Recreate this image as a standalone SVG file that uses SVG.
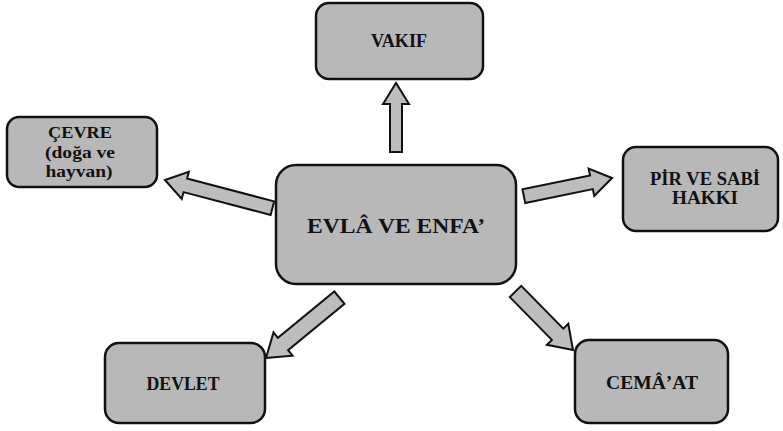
<svg xmlns="http://www.w3.org/2000/svg" width="783" height="431" viewBox="0 0 783 431">
<style>
.box{fill:#b8b8b8;stroke:#111;stroke-width:2.5}
.arr{fill:#bdbdbd;stroke:#111;stroke-width:2;stroke-linejoin:miter}
.t{font-family:"Liberation Serif","Times New Roman",serif;font-weight:bold;fill:#111;text-anchor:middle}
</style>
<rect width="783" height="431" fill="#fff"/>
<g id="connectors">
<polygon class="arr" transform="translate(396,83) rotate(-90)" points="0,0 -21,-13 -21,-6 -69,-6 -69,6 -21,6 -21,13"/>
<polygon class="arr" transform="translate(165,180) rotate(194.7)" points="0,0 -21,-14 -21,-7 -111,-7 -111,7 -21,7 -21,14"/>
<polygon class="arr" transform="translate(612,178) rotate(-11.6)" points="0,0 -21,-14 -21,-7 -90,-7 -90,7 -21,7 -21,14"/>
<polygon class="arr" transform="translate(266,358) rotate(140.6)" points="0,0 -22,-15 -22,-8 -95,-8 -95,8 -22,8 -22,15"/>
<polygon class="arr" transform="translate(573,350) rotate(45.5)" points="0,0 -22,-15 -22,-8 -82,-8 -82,8 -22,8 -22,15"/>
</g>
<g id="vakif">
<rect class="box" x="316" y="3" width="167" height="76" rx="13"/>
<text class="t" x="399" y="47" font-size="18" textLength="56" lengthAdjust="spacingAndGlyphs">VAKIF</text>
</g>
<g id="cevre">
<rect class="box" x="7" y="117" width="150" height="70" rx="12"/>
<text class="t" x="80" y="138" font-size="16" textLength="64" lengthAdjust="spacingAndGlyphs">ÇEVRE</text>
<text class="t" x="80" y="158" font-size="16" textLength="70" lengthAdjust="spacingAndGlyphs">(doğa ve</text>
<text class="t" x="79" y="177" font-size="16" textLength="67" lengthAdjust="spacingAndGlyphs">hayvan)</text>
</g>
<g id="pir">
<rect class="box" x="623" y="147" width="155" height="84" rx="13"/>
<text class="t" x="705" y="185" font-size="18" textLength="110" lengthAdjust="spacingAndGlyphs">PİR VE SABİ</text>
<text class="t" x="705" y="204" font-size="18" textLength="66" lengthAdjust="spacingAndGlyphs">HAKKI</text>
</g>
<g id="evla">
<rect class="box" x="276" y="165" width="240" height="119" rx="20"/>
<text class="t" x="396" y="233" font-size="22" textLength="178" lengthAdjust="spacingAndGlyphs">EVLÂ VE ENFA’</text>
</g>
<g id="devlet">
<rect class="box" x="105" y="343" width="160" height="80" rx="14"/>
<text class="t" x="183" y="390" font-size="18" textLength="73" lengthAdjust="spacingAndGlyphs">DEVLET</text>
</g>
<g id="cemaat">
<rect class="box" x="575" y="340" width="153" height="83" rx="14"/>
<text class="t" x="652" y="389" font-size="18" textLength="92" lengthAdjust="spacingAndGlyphs">CEMÂ’AT</text>
</g>
</svg>
